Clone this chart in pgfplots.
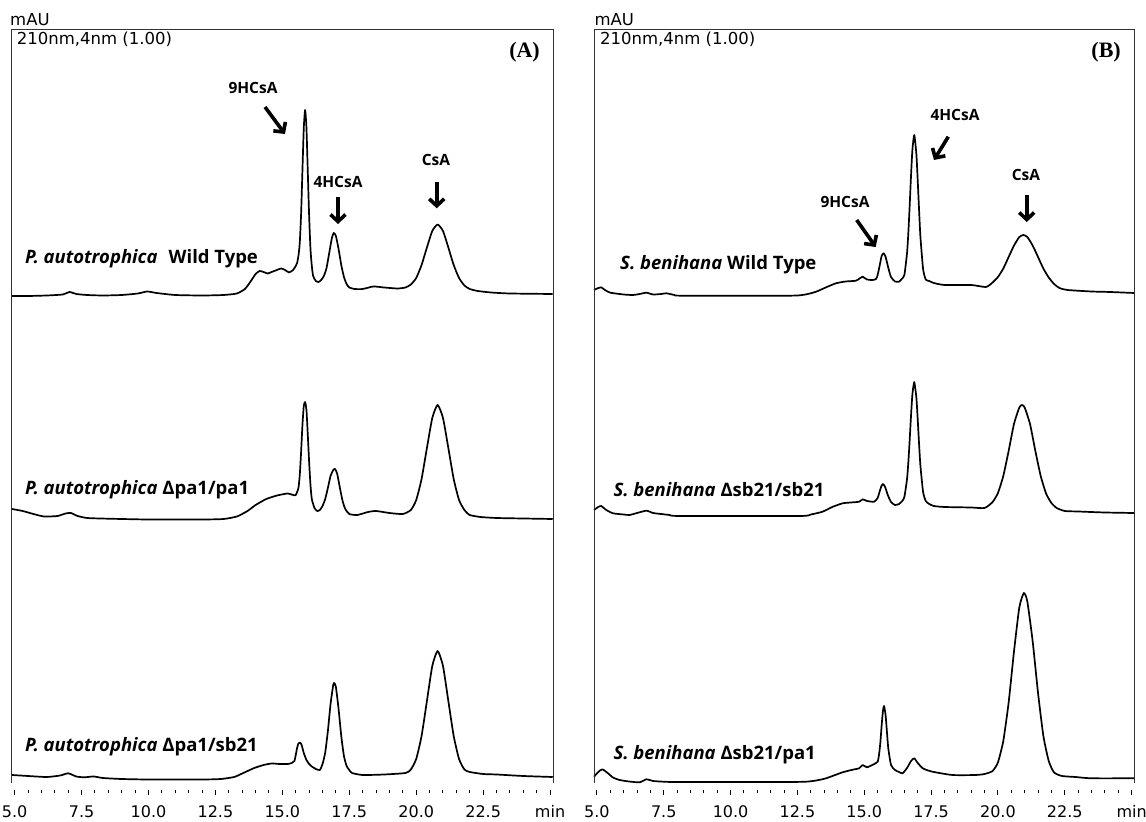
\documentclass[border=0pt]{standalone}
\usepackage{fontspec}
\usepackage{pgfplots}
\usepackage{pgfplotstable}
\pgfplotsset{compat=1.18}
\usetikzlibrary{arrows.meta}
\setmainfont{DejaVu Sans}
\newfontfamily\labfont{Open Sans}
\newfontfamily\serfont{Liberation Serif}
\newfontfamily\tickfont{DejaVu Sans}

% retention time (min), pixel row (from top)
\pgfplotstableread{
t p
4.9 296
5.5 296
6.2 295.5
6.8 294.5
7.05 292
7.3 294
7.7 295
8.3 295.5
9.0 295
9.6 293.5
9.95 291.5
10.3 293
11.0 295
12.0 295.5
12.8 295
13.3 293.5
13.6 289
13.8 282
14.0 274
14.15 271
14.3 272
14.45 273.5
14.6 272
14.8 270
14.95 268.5
15.1 270
15.25 272.5
15.4 270
15.5 266
15.55 263
15.6 256
15.65 243
15.7 214
15.75 170
15.8 128
15.85 110
15.9 128
15.95 172
16.0 216
16.05 249
16.1 266
16.15 276
16.25 281
16.35 282
16.45 280
16.55 276
16.65 268
16.75 253
16.85 238
16.92 233
17.0 236
17.1 249
17.2 265
17.3 277
17.4 284
17.5 287.5
17.7 289
18.0 289
18.4 286.5
18.8 287.5
19.3 288.5
19.6 287.5
19.8 284.5
20.0 278
20.2 265
20.4 247.5
20.6 231
20.8 224.5
21.0 231
21.2 247.5
21.4 265
21.6 278
21.8 285.5
22.0 289
22.3 291
22.8 292.5
23.5 293.5
25.1 294
}\Aone

\pgfplotstableread{
t p
4.9 509
5.3 511
5.7 514
6.1 516.5
6.6 516
6.9 513.5
7.1 513
7.35 516
7.7 518
8.2 518.5
9.0 519
10.0 519.5
12.0 519.5
12.8 519
13.3 516.5
13.7 511
14.0 505
14.4 499
14.8 495.5
15.2 493.5
15.4 495
15.5 495
15.6 488
15.65 475
15.7 452
15.75 425
15.8 406
15.85 402
15.9 410
15.95 435
16.0 462
16.05 485
16.1 499
16.2 508
16.3 511
16.4 510
16.5 506
16.6 499
16.7 488
16.8 476
16.9 470
16.97 469
17.05 474
17.15 488
17.25 501
17.35 509
17.5 514
17.8 515
18.2 512
18.5 511
19.0 513
19.5 514
19.8 510
20.0 500
20.2 479
20.4 448
20.6 418
20.8 405
21.0 418
21.2 448
21.4 479
21.6 500
21.8 510
22.0 515
22.4 517
23.0 518
24.0 518.5
25.1 519
}\Atwo

\pgfplotstableread{
t p
4.9 775
5.5 776
6.2 777
6.7 775.5
7.0 773.3
7.3 776.5
7.6 777.3
7.95 776.5
8.3 778
9.0 779
10.0 779.5
12.0 779.5
12.7 779
13.2 777
13.5 773.5
13.95 768
14.3 765
14.6 763.5
14.9 764
15.2 764
15.35 763
15.45 761
15.5 755
15.55 748
15.6 743.5
15.66 742.5
15.72 745
15.8 753
15.9 760
16.0 764
16.1 766.5
16.25 769
16.4 770
16.5 764
16.6 752.6
16.7 731
16.8 704
16.9 685
16.94 683
17.0 687
17.1 709
17.2 736
17.3 756
17.4 766
17.5 770
17.6 773
18.0 775
18.8 774.5
19.6 773
19.8 769.5
20.0 759
20.2 736
20.4 701
20.6 666
20.8 651
21.0 666
21.2 701
21.4 736
21.6 759
21.8 769.5
22.0 772
22.5 774
23.0 774.5
24.0 776
25.1 777
}\Athree

\pgfplotstableread{
t p
4.89 290
5.05 288
5.16 287.3
5.3 290
5.5 292.7
6.0 294.5
6.34 295
6.6 294
6.85 292.7
7.1 294.5
7.4 294
7.6 293.3
7.9 295
8.2 295.7
12.2 295.7
12.8 294.5
13.2 291.7
13.6 287
13.94 283.3
14.3 281.5
14.69 280.7
14.85 278
14.94 276.7
15.1 279.5
15.31 280
15.44 279
15.5 275
15.58 265
15.65 256
15.72 253.3
15.8 257
15.9 268
16.0 277
16.15 281.5
16.3 281.7
16.4 279
16.5 275
16.6 253
16.65 232
16.7 204.7
16.75 175
16.8 150
16.87 135
16.95 154.5
17.0 181
17.05 210
17.1 236.6
17.2 269
17.3 279.6
17.43 281
17.6 283
18.0 285
19.0 285
19.55 287
19.8 282.5
20.0 277
20.2 268.6
20.4 257
20.6 245.6
20.8 237
20.95 235
21.1 237
21.3 245.6
21.5 257
21.7 268.6
21.9 277.5
22.1 284
22.3 288
22.6 290
23.5 291.5
24.2 292
25.09 293
}\Bone

\pgfplotstableread{
t p
4.89 510
5.05 507
5.16 506
5.35 510
5.6 513.3
6.0 514.5
6.22 515
6.5 513
6.85 510.7
7.1 513
7.4 514
7.72 515
8.1 516
12.56 516
13.0 514.5
13.44 511.7
13.8 507
14.19 503.3
14.5 502.5
14.81 501.7
14.94 499.3
15.1 501
15.37 501.7
15.5 498
15.58 491
15.65 485.5
15.7 484
15.78 487
15.88 495
16.0 502
16.15 505
16.3 504
16.42 501
16.5 497
16.6 479
16.65 461.7
16.7 439.4
16.75 415
16.8 394.5
16.87 382
16.95 398
17.0 419.9
17.05 444
17.1 465.6
17.2 492
17.3 501
17.43 504
17.6 506
18.0 507
19.0 507.5
19.5 508
19.8 502
20.0 493
20.2 476
20.4 451
20.6 424
20.8 407.5
20.9 405
21.0 407.5
21.2 424
21.4 451
21.6 476
21.8 493.5
22.0 503
22.2 508
22.5 511
23.0 511.5
24.0 512.5
25.09 513
}\Btwo

\pgfplotstableread{
t p
4.89 776.7
5.05 772
5.2 769.3
5.4 773
5.6 777.5
5.85 780
6.2 781.5
6.6 782.3
6.85 779.3
7.1 781
7.5 781.7
8.0 782
12.0 782
12.82 781.7
13.2 780.5
13.57 778.3
14.19 772.3
14.6 769.5
14.81 768.3
14.94 765
15.1 767.3
15.37 764
15.5 761.7
15.55 755
15.6 743
15.65 725.6
15.7 710.5
15.74 706
15.8 715.7
15.85 732.8
15.9 748.6
16.0 765
16.15 770
16.3 772
16.43 773.3
16.6 768
16.75 761
16.87 758.3
17.0 763
17.2 768.5
17.55 771.7
18.3 775
19.17 775
19.5 774
19.8 771
20.0 762.4
20.2 741
20.4 702.6
20.6 651.6
20.8 607.4
20.97 593
21.1 601.6
21.3 641.5
21.5 693
21.7 736
21.9 761
22.1 772.5
22.4 776
22.9 777
23.5 778.3
25.09 778.3
}\Bthree

\pgfplotsset{
  chrom/.style={
    scale only axis, height=760pt,
    ymin=0, ymax=760,
    axis x line*=bottom, axis y line=none,
    x axis line style={draw=none},
    tick align=outside,
    xtick={5,7.5,10,12.5,15,17.5,20,22.5,25},
    xticklabels={5.0,7.5,10.0,12.5,15.0,17.5,20.0,22.5,min},
    minor x tick num=4,
    major tick length=5.5pt, minor tick length=3.5pt,
    tick style={black, line width=1pt},
    xticklabel style={font=\fontsize{16}{16}\tickfont\selectfont, text height=11.7pt, text depth=0pt, yshift=-7pt},
    clip=false,
  },
  tr/.style={black, line width=1.7pt, line join=round, smooth, tension=0.35},
}

\begin{document}
\begin{tikzpicture}[x=1pt,y=1pt]
\path[use as bounding box] (0,0) rectangle (1146,822);

\begin{axis}[chrom, at={(12pt,32pt)}, anchor=south west, width=541pt, xmin=4.9, xmax=25.11]
\addplot[tr] table[x=t, y expr=790-\thisrow{p}] {\Aone};
\addplot[tr] table[x=t, y expr=790-\thisrow{p}] {\Atwo};
\addplot[tr] table[x=t, y expr=790-\thisrow{p}] {\Athree};
\draw[line width=1pt, black!80] (rel axis cs:0,0.0092) -- (rel axis cs:0,1) -- (rel axis cs:1,1) -- (rel axis cs:1,0.0092);
\end{axis}

\begin{axis}[chrom, at={(594pt,32pt)}, anchor=south west, width=540pt, xmin=4.89, xmax=25.09]
\addplot[tr] table[x=t, y expr=790-\thisrow{p}] {\Bone};
\addplot[tr] table[x=t, y expr=790-\thisrow{p}] {\Btwo};
\addplot[tr] table[x=t, y expr=790-\thisrow{p}] {\Bthree};
\draw[line width=1pt, black!80] (rel axis cs:0,0.0092) -- (rel axis cs:0,1) -- (rel axis cs:1,1) -- (rel axis cs:1,0.0092);
\end{axis}

% headers
\begin{scope}[every node/.style={inner sep=0pt, font=\fontsize{16.5}{16.5}\selectfont}]
\node[anchor=base west] at (10,796) {mAU};
\node[anchor=base west] at (16.7,777) {210nm,4nm (1.00)};
\node[anchor=base west] at (594.3,796) {mAU};
\node[anchor=base west] at (600,777) {210nm,4nm (1.00)};
\end{scope}
\node[anchor=east, inner sep=0pt, font=\fontsize{22}{22}\serfont\bfseries] at (540,770) {(A)};
\node[anchor=east, inner sep=0pt, font=\fontsize{22}{22}\serfont\bfseries] at (1121,770) {(B)};

% trace labels
\begin{scope}[every node/.style={inner sep=0pt, anchor=base west, font=\fontsize{18.5}{20}\labfont\bfseries}]
\node at (25,558.5) {\textit{P. autotrophica}\hspace{0.6em}Wild Type};
\node at (25,327) {\textit{P. autotrophica} Δpa1/pa1};
\node at (25,70.3) {\textit{P. autotrophica} Δpa1/sb21};
\node at (620,552) {\textit{S. benihana} Wild Type};
\node at (613.3,325.3) {\textit{S. benihana} Δsb21/sb21};
\node at (613.3,62) {\textit{S. benihana} Δsb21/pa1};
\end{scope}

% peak labels
\begin{scope}[every node/.style={inner sep=0pt, font=\fontsize{15.5}{17}\labfont\bfseries}]
\node at (253,734) {9HCsA};
\node at (338,640) {4HCsA};
\node at (436,662) {CsA};
\node at (845,620.3) {9HCsA};
\node at (955,707) {4HCsA};
\node at (1026,647) {CsA};
\end{scope}
\begin{scope}[line width=3.6pt, -{Straight Barb[length=7pt,width=15pt]}]
\draw (265,715) -- (285,688);
\draw (338,625) -- (338,598);
\draw (436.7,640.3) -- (436.7,613.7);
\draw (948.3,685.3) -- (934,662);
\draw (1026.7,627) -- (1026.7,600);
\draw (856.7,602) -- (875.7,575);
\end{scope}
\end{tikzpicture}
\end{document}
